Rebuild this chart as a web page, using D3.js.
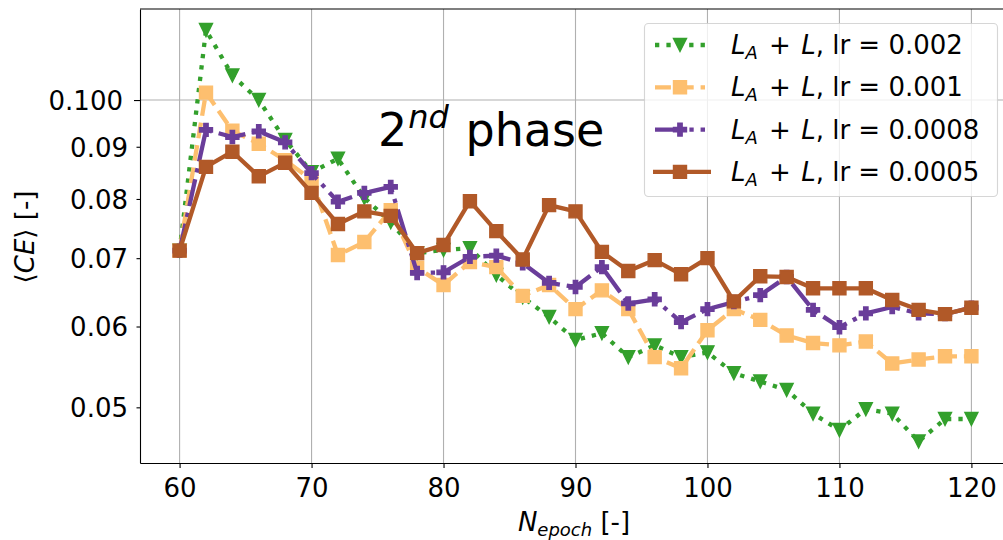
<!DOCTYPE html>
<html>
<head>
<meta charset="utf-8">
<script src="https://cdn.jsdelivr.net/npm/d3@7"></script>
<style>
  body { margin: 0; background: #fff; }
  text { font-family: "DejaVu Sans", sans-serif; fill: #000; }
</style>
</head>
<body>
<svg id="chart" width="1003" height="540"></svg>
<script>
// Mean cross-entropy per epoch during the second training phase
const epochs = [60, 62, 64, 66, 68, 70, 72, 74, 76, 78, 80, 82, 84, 86, 88, 90, 92, 94, 96, 98,
                100, 102, 104, 106, 108, 110, 112, 114, 116, 118, 120];

const ceLr0002 = [0.0712, 0.1171, 0.1057, 0.1000, 0.0914, 0.0850, 0.0876, 0.0802, 0.0759, 0.0708,
                  0.0713, 0.0716, 0.0674, 0.0641, 0.0613, 0.0582, 0.0591, 0.0560, 0.0575, 0.0560,
                  0.0566, 0.0540, 0.0530, 0.0520, 0.0493, 0.0475, 0.0498, 0.0493, 0.0463, 0.0487, 0.0487];
const ceLr0001 = [0.0712, 0.1017, 0.0933, 0.0906, 0.0873, 0.0835, 0.0705, 0.0726, 0.0780, 0.0685,
                  0.0659, 0.0694, 0.0686, 0.0643, 0.0659, 0.0624, 0.0651, 0.0624, 0.0560, 0.0546,
                  0.0595, 0.0624, 0.0609, 0.0588, 0.0578, 0.0575, 0.0580, 0.0552, 0.0557, 0.0561, 0.0561];
const ceLr00008 = [0.0712, 0.0935, 0.0920, 0.0932, 0.0909, 0.0848, 0.0795, 0.0811, 0.0822, 0.0677,
                   0.0678, 0.0702, 0.0704, 0.0692, 0.0662, 0.0656, 0.0686, 0.0632, 0.0638, 0.0606,
                   0.0624, 0.0634, 0.0644, 0.0671, 0.0623, 0.0599, 0.0618, 0.0627, 0.0618, 0.0617, 0.0626];
const ceLr00005 = [0.0712, 0.0860, 0.0890, 0.0842, 0.0868, 0.0811, 0.0756, 0.0778, 0.0770, 0.0708,
                   0.0721, 0.0796, 0.0744, 0.0698, 0.0789, 0.0778, 0.0710, 0.0680, 0.0697, 0.0675,
                   0.0700, 0.0635, 0.0672, 0.0671, 0.0654, 0.0654, 0.0654, 0.0637, 0.0623, 0.0617, 0.0626];

const lrLabels = ["0.002", "0.001", "0.0008", "0.0005"];
const xTicks = [60, 70, 80, 90, 100, 110, 120];
const yMajorTicks = [0.1];
const yMajorLabels = ["0.100"];
const yMinorTicks = [0.05, 0.06, 0.07, 0.08, 0.09];
const yMinorLabels = ["0.05", "0.06", "0.07", "0.08", "0.09"];

const LW = 4.3;
const FS = "26px";
const series = [
  { values: ceLr0002, lr: lrLabels[0], color: "#33a02c", marker: "tri", dash: [1 * LW, 1.65 * LW], cap: "butt" },
  { values: ceLr0001, lr: lrLabels[1], color: "#fdbf6f", marker: "square", dash: [3.7 * LW, 1.6 * LW], cap: "butt" },
  { values: ceLr00008, lr: lrLabels[2], color: "#6a3d9a", marker: "plus", dash: [6.4 * LW, 1.6 * LW, 1 * LW, 1.6 * LW], cap: "butt" },
  { values: ceLr00005, lr: lrLabels[3], color: "#b15928", marker: "square", dash: null, cap: "square" }
];

const svg = d3.select("#chart");
const plot = { left: 140, right: 1011, top: 9, bottom: 463 };

const x = d3.scaleLinear().domain([57, 123]).range([plot.left, plot.right]);
const y = d3.scaleLog().domain([0.0441, 0.1228]).range([plot.bottom, plot.top]);

svg.append("defs").append("clipPath").attr("id", "plotClip")
  .append("rect")
  .attr("x", plot.left).attr("y", plot.top)
  .attr("width", plot.right - plot.left).attr("height", plot.bottom - plot.top);

// grid
const grid = svg.append("g").attr("stroke", "#b0b0b0").attr("stroke-width", 1.1);
grid.selectAll("line.gx").data(xTicks).join("line")
  .attr("x1", d => x(d)).attr("x2", d => x(d))
  .attr("y1", plot.top).attr("y2", plot.bottom);
grid.selectAll("line.gy").data(yMajorTicks).join("line")
  .attr("x1", plot.left).attr("x2", plot.right)
  .attr("y1", d => y(d)).attr("y2", d => y(d));

// marker shapes
function markerPath(kind, s) {
  const h = s / 2;
  if (kind === "square") return `M${-h},${-h}H${h}V${h}H${-h}Z`;
  if (kind === "tri") return `M${-h},${-h}L${h},${-h}L0,${h}Z`;
  const a = s / 6;
  return `M${-a},${-h}H${a}V${-a}H${h}V${a}H${a}V${h}H${-a}V${a}H${-h}V${-a}H${-a}Z`;
}
const MS = 13;

const line = d3.line().x((d, i) => x(epochs[i])).y(d => y(d));
const data = svg.append("g").attr("clip-path", "url(#plotClip)");

series.forEach(s => {
  const g = data.append("g");
  g.append("path")
    .attr("d", line(s.values))
    .attr("fill", "none")
    .attr("stroke", s.color)
    .attr("stroke-width", LW)
    .attr("stroke-linejoin", "round")
    .attr("stroke-linecap", s.cap)
    .attr("stroke-dasharray", s.dash ? s.dash.join(",") : null);
  g.selectAll("path.m").data(s.values).join("path")
    .attr("class", "m")
    .attr("transform", (d, i) => `translate(${x(epochs[i])},${y(d)})`)
    .attr("d", markerPath(s.marker, MS))
    .attr("fill", s.color)
    .attr("stroke", s.color)
    .attr("stroke-width", 1.4);
});

// axes
const xAxis = svg.append("g")
  .attr("transform", `translate(0,${plot.bottom})`)
  .call(d3.axisBottom(x).tickValues(xTicks).tickSize(5).tickSizeOuter(0).tickFormat(d3.format("d")));
xAxis.selectAll("text").attr("dy", null).attr("y", 34).style("font-size", FS);

const yAxisMajor = svg.append("g")
  .attr("transform", `translate(${plot.left},0)`)
  .call(d3.axisLeft(y).tickValues(yMajorTicks).tickSize(6).tickSizeOuter(0)
    .tickFormat((d, i) => yMajorLabels[i]));
yAxisMajor.selectAll("text").attr("x", -17).attr("dy", "0.36em").style("font-size", FS);

const yAxisMinor = svg.append("g")
  .attr("transform", `translate(${plot.left},0)`)
  .call(d3.axisLeft(y).tickValues(yMinorTicks).tickSize(3.5).tickSizeOuter(0)
    .tickFormat((d, i) => yMinorLabels[i]));
yAxisMinor.selectAll("text").attr("x", -12).attr("dy", "0.36em").style("font-size", FS);
yAxisMinor.select(".domain").remove();

[xAxis, yAxisMajor, yAxisMinor].forEach(a => {
  a.selectAll(".tick line").attr("stroke", "#000").attr("stroke-width", 1.1);
  a.selectAll("text").attr("font-family", "DejaVu Sans").attr("fill", "#000");
});
xAxis.select(".domain").attr("stroke-width", 1.1);
yAxisMajor.select(".domain").attr("stroke-width", 1.1);

// top spine
svg.append("line")
  .attr("x1", plot.left).attr("x2", plot.right)
  .attr("y1", plot.top).attr("y2", plot.top)
  .attr("stroke", "#000").attr("stroke-width", 1.1);

// axis titles
const xt = svg.append("text")
  .attr("x", 574).attr("y", 531)
  .attr("text-anchor", "middle")
  .style("font-size", FS);
xt.append("tspan").style("font-style", "italic").text("N");
xt.append("tspan").style("font-style", "italic").style("font-size", "18px").attr("dy", 5).text("epoch");
xt.append("tspan").attr("dy", -5).text(" [-]");

const yt = svg.append("text")
  .attr("transform", "translate(34,237) rotate(-90)")
  .attr("text-anchor", "middle")
  .style("font-size", FS);
yt.append("tspan").text("⟨");
yt.append("tspan").style("font-style", "italic").text("CE");
yt.append("tspan").text("⟩ [-]");

// phase annotation
const ann = svg.append("text").attr("x", 378).attr("y", 146).style("font-size", "46px");
ann.append("tspan").text("2");
ann.append("tspan").style("font-style", "italic").style("font-size", "32px").attr("dx", 1).attr("dy", -18).text("nd");
ann.append("tspan").attr("dy", 18).attr("dx", 2).text(" phase");

// legend
const lg = svg.append("g");
lg.append("rect")
  .attr("x", 644.5).attr("y", 23.5).attr("width", 353).attr("height", 173)
  .attr("rx", 4).attr("ry", 4)
  .attr("fill", "#fff").attr("fill-opacity", 0.8)
  .attr("stroke", "#cccccc").attr("stroke-opacity", 0.8).attr("stroke-width", 1.1);

series.forEach((s, i) => {
  const cy = 45 + i * 42.3;
  const row = lg.append("g");
  const x0 = s.dash ? 655 : 653, x1 = s.dash ? 705 : 711;
  row.append("line")
    .attr("x1", x0).attr("x2", x1).attr("y1", cy).attr("y2", cy)
    .attr("stroke", s.color).attr("stroke-width", LW)
    .attr("stroke-linecap", "butt")
    .attr("stroke-dasharray", s.dash ? s.dash.join(",") : null);
  row.append("path")
    .attr("transform", `translate(680,${cy})`)
    .attr("d", markerPath(s.marker, MS))
    .attr("fill", s.color).attr("stroke", s.color).attr("stroke-width", 1.4);
  const t = row.append("text").attr("x", 731).attr("y", cy + 9).style("font-size", FS);
  t.append("tspan").style("font-style", "italic").text("L");
  t.append("tspan").style("font-style", "italic").style("font-size", "18px").attr("dy", 5).text("A");
  t.append("tspan").attr("dy", -5).attr("dx", 3).text(" + ");
  t.append("tspan").style("font-style", "italic").attr("dx", 2).text("L");
  t.append("tspan").text(", lr = " + s.lr);
});
</script>
</body>
</html>
